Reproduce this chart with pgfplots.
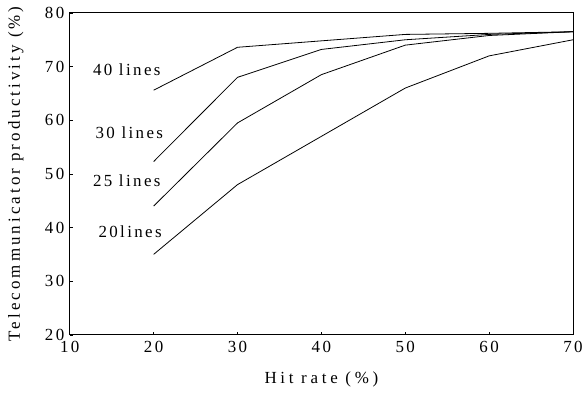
\documentclass[border=0pt]{standalone}
\usepackage{fontspec}
\setmainfont{Liberation Serif}[LetterSpace=14]
\newfontfamily\widefont{Liberation Serif}[LetterSpace=22]
\newfontfamily\ylabfont{Liberation Serif}[LetterSpace=18]
\usepackage{pgfplots}
\pgfplotsset{compat=1.18}
\begin{document}
\begin{tikzpicture}[font=\fontsize{17pt}{20pt}\selectfont]
\begin{axis}[
  scale only axis,
  width=505pt, height=323pt,
  xmin=10, xmax=70, ymin=20, ymax=80,
  xtick={10,20,30,40,50,60,70},
  ytick={20,30,40,50,60,70,80},
  xtick pos=bottom, ytick pos=left,
  tick align=inside,
  major tick length=3pt,
  axis line style={line width=1pt},
  tick style={line width=0.6pt, black},
  /pgf/number format/assume math mode=true,
  ticklabel style={font=\fontsize{17pt}{20pt}\selectfont},
  xticklabel style={yshift=-3pt},
  yticklabel style={xshift=-2pt},
  label style={font=\fontsize{17pt}{20pt}\selectfont},
  xlabel={{\widefont Hit\hspace{0.45em}rate\hspace{0.45em}(\%)}},
  ylabel={{\ylabfont Telecommunicator productivity (\%)}},
  xlabel style={at={(rel axis cs:0.5,0)}, anchor=center, yshift=-45pt},
  ylabel style={at={(rel axis cs:0,0.5)}, anchor=center, yshift=54pt},
  clip=false,
]
\addplot[black, line width=0.8pt, mark=none] coordinates {(20,65.6) (30,73.6) (40,74.8) (50,76.0) (60,76.2) (70,76.5)};
\addplot[black, line width=0.8pt, mark=none] coordinates {(20,52.3) (30,68.0) (40,73.2) (50,75.0) (60,76.0) (70,76.5)};
\addplot[black, line width=0.8pt, mark=none] coordinates {(20,44.0) (30,59.5) (40,68.5) (50,74.0) (60,75.8) (70,76.5)};
\addplot[black, line width=0.8pt, mark=none] coordinates {(20,35.0) (30,48.0) (40,57.0) (50,66.0) (60,72.0) (70,75.0)};
\node at (axis cs:16.8,69.4) {40 lines};
\node at (axis cs:17.1,57.7) {30 lines};
\node at (axis cs:16.8,48.8) {25 lines};
\node at (axis cs:17.2,39.3) {20lines};
\path (rel axis cs:0,1) ++(-70pt,13pt) coordinate (tl);
\path (rel axis cs:1,0) ++(11pt,-59pt) coordinate (br);
\end{axis}
\end{tikzpicture}
\end{document}
